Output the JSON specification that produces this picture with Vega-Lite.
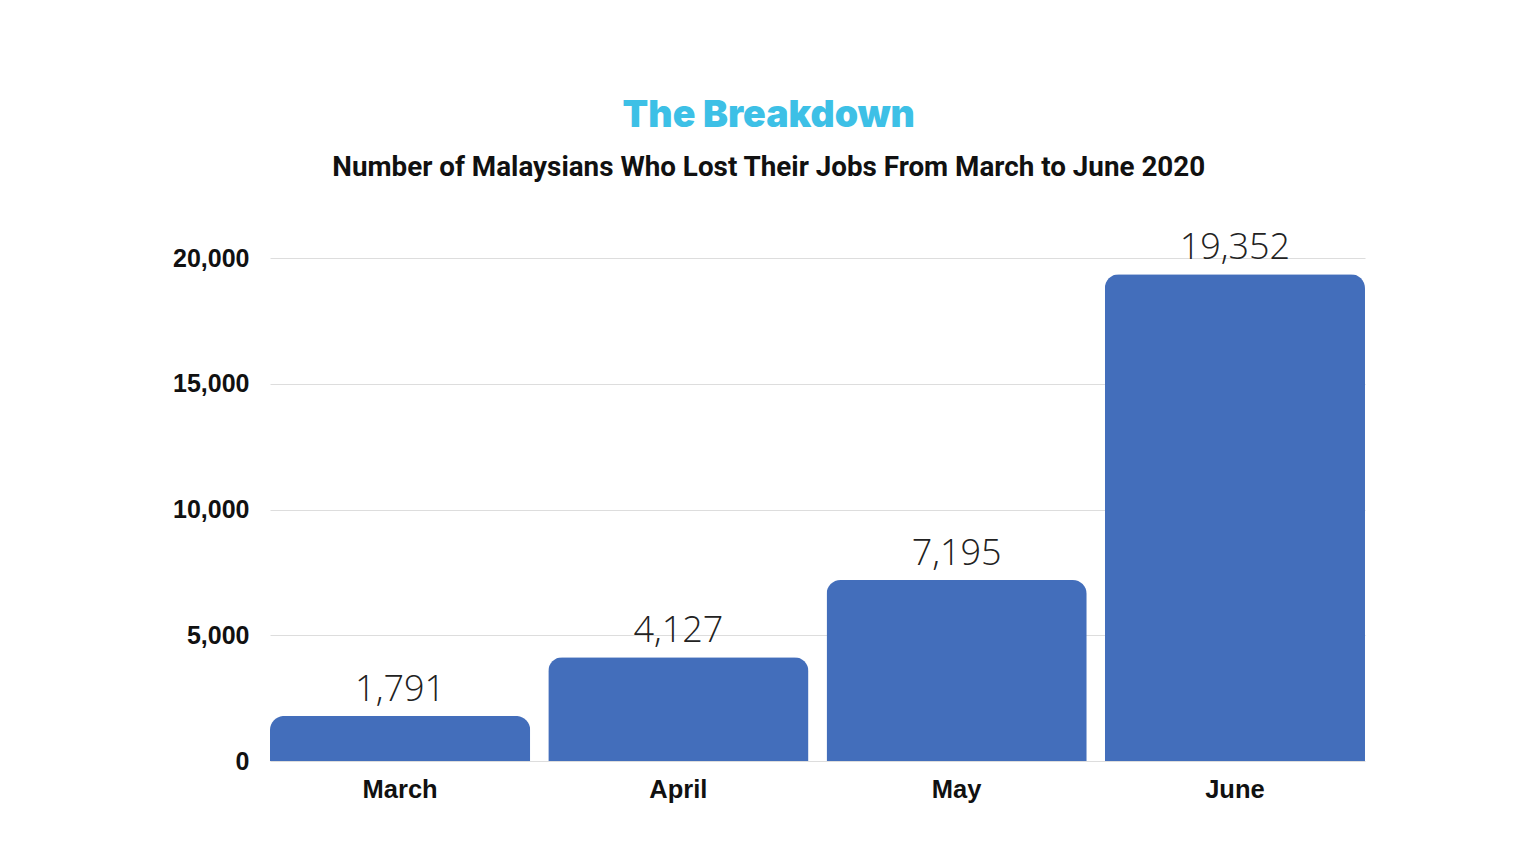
{
  "$schema": "https://vega.github.io/schema/vega-lite/v6.json",
  "autosize": "none",
  "width": 1095,
  "height": 503,
  "padding": {"left": 270, "top": 258, "right": 171, "bottom": 103},
  "background": "white",
  "title": {
    "text": "The Breakdown",
    "subtitle": "Number of Malaysians Who Lost Their Jobs From March to June 2020",
    "frame": "bounds",
    "anchor": "middle",
    "font": "Inter",
    "fontSize": 37.5,
    "fontWeight": 900,
    "color": "#3DC0E6",
    "subtitleFont": "Roboto",
    "subtitleFontSize": 27.8,
    "subtitleFontWeight": "bold",
    "subtitleColor": "#111111",
    "subtitlePadding": 20,
    "offset": 48
  },
  "data": {
    "values": [
      {"month": "March", "jobs": 1791},
      {"month": "April", "jobs": 4127},
      {"month": "May", "jobs": 7195},
      {"month": "June", "jobs": 19352}
    ]
  },
  "encoding": {
    "x": {
      "field": "month",
      "type": "nominal",
      "sort": null,
      "scale": {"paddingInner": 0.065, "paddingOuter": 0},
      "axis": {
        "title": null,
        "labelAngle": 0,
        "labelFont": "Liberation Sans",
        "labelFontSize": 25.5,
        "labelFontWeight": "bold",
        "labelColor": "#111111",
        "labelPadding": 16,
        "ticks": false,
        "domain": false
      }
    },
    "y": {
      "field": "jobs",
      "type": "quantitative",
      "scale": {"domain": [0, 20000], "nice": false},
      "axis": {
        "title": null,
        "values": [0, 5000, 10000, 15000, 20000],
        "format": ",d",
        "labelFont": "Liberation Sans",
        "labelFontSize": 25,
        "labelFontWeight": "bold",
        "labelColor": "#111111",
        "labelPadding": 21,
        "ticks": false,
        "domain": false,
        "gridColor": "#dddddd",
        "gridWidth": 1
      }
    }
  },
  "layer": [
    {
      "mark": {"type": "bar", "color": "#436EBB", "cornerRadiusTopLeft": 14, "cornerRadiusTopRight": 14}
    },
    {
      "mark": {"type": "text", "baseline": "bottom", "dy": -7, "font": "Open Sans", "fontWeight": 300, "fontSize": 36, "color": "#222222"},
      "encoding": {
        "text": {"field": "jobs", "type": "quantitative", "format": ",d"}
      }
    }
  ],
  "config": {"view": {"stroke": null}}
}
